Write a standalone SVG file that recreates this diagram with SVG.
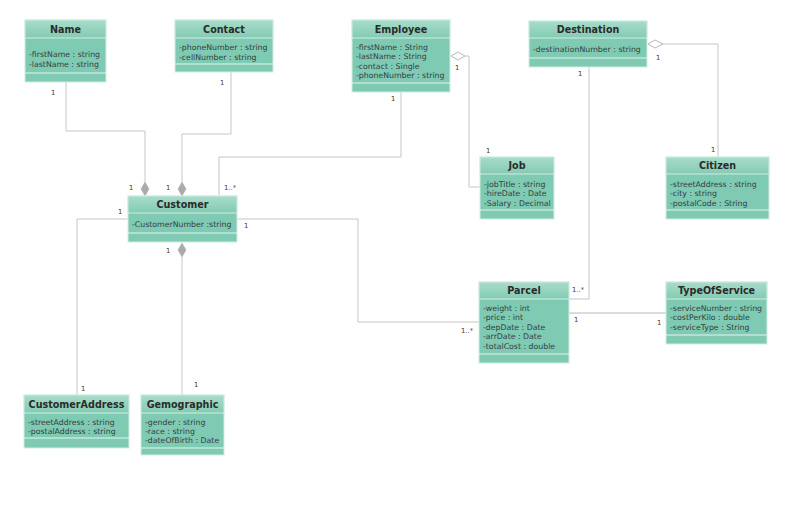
<svg xmlns="http://www.w3.org/2000/svg" width="800" height="516" viewBox="0 0 800 516">
<defs>
<linearGradient id="hg" x1="0" y1="0" x2="0" y2="1">
<stop offset="0" stop-color="#a8dcca"/>
<stop offset="1" stop-color="#83cbb3"/>
</linearGradient>
<style>
.hd{fill:url(#hg);stroke:#d4ece3;stroke-width:1}
.bd{fill:#7fcab2;stroke:#d4ece3;stroke-width:1}
.sep{stroke:#e6f5ee;stroke-width:1}
.t{font-family:"DejaVu Sans",Verdana,sans-serif;font-size:9.6px;font-weight:bold;fill:#2b2b2b;text-anchor:middle}
.a{font-family:"DejaVu Sans",Verdana,sans-serif;font-size:7.8px;fill:#33403f}
.l{font-family:"DejaVu Sans",Verdana,sans-serif;font-size:6.8px;fill:#4a3a32}
.c{fill:none;stroke:#c6c6c6;stroke-width:1}
.fd{fill:#aaaaaa;stroke:#aaaaaa;stroke-width:0.5}
.od{fill:#fff;stroke:#b8b8b8;stroke-width:1}
</style>
</defs>
<rect width="800" height="516" fill="#fff"/>

<g id="connectors">
<polyline class="c" points="66,82 66,131 145,131 145,182"/>
<polyline class="c" points="231,72 231,134 182,134 182,182"/>
<polyline class="c" points="401,92 401,157 219,157 219,196"/>
<polyline class="c" points="465,56 469,56 469,187 480,187"/>
<polyline class="c" points="663,44 718,44 718,157"/>
<polyline class="c" points="589,67 589,299 569,299"/>
<polyline class="c" points="237,219 358,219 358,322 479,322"/>
<line x1="569" y1="313" x2="666" y2="313" stroke="#dcdcdc" stroke-width="2"/>
<polyline class="c" points="128,219 77,219 77,395"/>
<polyline class="c" points="182,257 182,395"/>
<polygon class="fd" points="145,182 149,189 145,196 141,189"/>
<polygon class="fd" points="182,182 186,189 182,196 178,189"/>
<polygon class="fd" points="182,243 186,250 182,257 178,250"/>
<polygon class="od" points="451,56 458,52 465,56 458,60"/>
<polygon class="od" points="648,44 655,40 663,44 655,48"/>
<text class="l" x="51" y="95">1</text>
<text class="l" x="220" y="85">1</text>
<text class="l" x="391" y="101">1</text>
<text class="l" x="455" y="70">1</text>
<text class="l" x="486" y="153">1</text>
<text class="l" x="578" y="76">1</text>
<text class="l" x="656" y="60">1</text>
<text class="l" x="711" y="152">1</text>
<text class="l" x="129" y="190">1</text>
<text class="l" x="166" y="190">1</text>
<text class="l" x="224" y="190">1..*</text>
<text class="l" x="118" y="214">1</text>
<text class="l" x="244" y="228">1</text>
<text class="l" x="166" y="253">1</text>
<text class="l" x="81" y="391">1</text>
<text class="l" x="194" y="387">1</text>
<text class="l" x="461" y="333">1..*</text>
<text class="l" x="572" y="292">1..*</text>
<text class="l" x="574" y="322">1</text>
<text class="l" x="657" y="325">1</text>
</g>

<g id="Name">
<rect class="bd" x="25" y="20" width="81" height="62"/>
<rect class="hd" x="25" y="20" width="81" height="18"/>
<line class="sep" x1="25" y1="73" x2="106" y2="73"/>
<text class="t" x="65.5" y="32.8">Name</text>
<text class="a" x="29" y="57">-firstName : string</text>
<text class="a" x="29" y="66.5">-lastName : string</text>
</g>

<g id="Contact">
<rect class="bd" x="175" y="20" width="98" height="52"/>
<rect class="hd" x="175" y="20" width="98" height="18"/>
<line class="sep" x1="175" y1="64" x2="273" y2="64"/>
<text class="t" x="224" y="32.8">Contact</text>
<text class="a" x="179" y="50">-phoneNumber : string</text>
<text class="a" x="179" y="59.5">-cellNumber : string</text>
</g>

<g id="Employee">
<rect class="bd" x="352" y="20" width="98" height="72"/>
<rect class="hd" x="352" y="20" width="98" height="18"/>
<line class="sep" x1="352" y1="83" x2="450" y2="83"/>
<text class="t" x="401" y="32.8">Employee</text>
<text class="a" x="356" y="50">-firstName : String</text>
<text class="a" x="356" y="59.3">-lastName : String</text>
<text class="a" x="356" y="68.6">-contact : Single</text>
<text class="a" x="356" y="78">-phoneNumber : string</text>
</g>

<g id="Destination">
<rect class="bd" x="529" y="21" width="118" height="46"/>
<rect class="hd" x="529" y="21" width="118" height="17"/>
<line class="sep" x1="529" y1="58" x2="647" y2="58"/>
<text class="t" x="588" y="33.3">Destination</text>
<text class="a" x="533" y="52">-destinationNumber : string</text>
</g>

<g id="Customer">
<rect class="bd" x="128" y="196" width="109" height="46"/>
<rect class="hd" x="128" y="196" width="109" height="17"/>
<line class="sep" x1="128" y1="233" x2="237" y2="233"/>
<text class="t" x="182.5" y="208.3">Customer</text>
<text class="a" x="132" y="227">-CustomerNumber :string</text>
</g>

<g id="Job">
<rect class="bd" x="480" y="157" width="74" height="62"/>
<rect class="hd" x="480" y="157" width="74" height="17"/>
<line class="sep" x1="480" y1="210" x2="554" y2="210"/>
<text class="t" x="517" y="169.3">Job</text>
<text class="a" x="484" y="187">-jobTitle : string</text>
<text class="a" x="484" y="196.3">-hireDate : Date</text>
<text class="a" x="484" y="205.6">-Salary : Decimal</text>
</g>

<g id="Citizen">
<rect class="bd" x="666" y="157" width="103" height="62"/>
<rect class="hd" x="666" y="157" width="103" height="17"/>
<line class="sep" x1="666" y1="210" x2="769" y2="210"/>
<text class="t" x="717.5" y="169.3">Citizen</text>
<text class="a" x="670" y="187">-streetAddress : string</text>
<text class="a" x="670" y="196.3">-city : string</text>
<text class="a" x="670" y="205.6">-postalCode : String</text>
</g>

<g id="Parcel">
<rect class="bd" x="479" y="282" width="90" height="81"/>
<rect class="hd" x="479" y="282" width="90" height="17"/>
<line class="sep" x1="479" y1="354" x2="569" y2="354"/>
<text class="t" x="524" y="294.3">Parcel</text>
<text class="a" x="483" y="311">-weight : int</text>
<text class="a" x="483" y="320.4">-price : int</text>
<text class="a" x="483" y="329.8">-depDate : Date</text>
<text class="a" x="483" y="339.2">-arrDate : Date</text>
<text class="a" x="483" y="348.6">-totalCost : double</text>
</g>

<g id="TypeOfService">
<rect class="bd" x="666" y="282" width="101" height="62"/>
<rect class="hd" x="666" y="282" width="101" height="17"/>
<line class="sep" x1="666" y1="335" x2="767" y2="335"/>
<text class="t" x="716.5" y="294.3">TypeOfService</text>
<text class="a" x="670" y="311">-serviceNumber : string</text>
<text class="a" x="670" y="320.4">-costPerKilo : double</text>
<text class="a" x="670" y="329.8">-serviceType : String</text>
</g>

<g id="CustomerAddress">
<rect class="bd" x="24" y="395" width="105" height="53"/>
<rect class="hd" x="24" y="395" width="105" height="18"/>
<line class="sep" x1="24" y1="438" x2="129" y2="438"/>
<text class="t" x="76.5" y="407.8">CustomerAddress</text>
<text class="a" x="28" y="425">-streetAddress : string</text>
<text class="a" x="28" y="434.4">-postalAddress : string</text>
</g>

<g id="Gemographic">
<rect class="bd" x="141" y="395" width="83" height="60"/>
<rect class="hd" x="141" y="395" width="83" height="18"/>
<line class="sep" x1="141" y1="448" x2="224" y2="448"/>
<text class="t" x="182.5" y="407.8">Gemographic</text>
<text class="a" x="145" y="424.5">-gender : string</text>
<text class="a" x="145" y="433.8">-race : string</text>
<text class="a" x="145" y="443.2">-dateOfBirth : Date</text>
</g>
</svg>
